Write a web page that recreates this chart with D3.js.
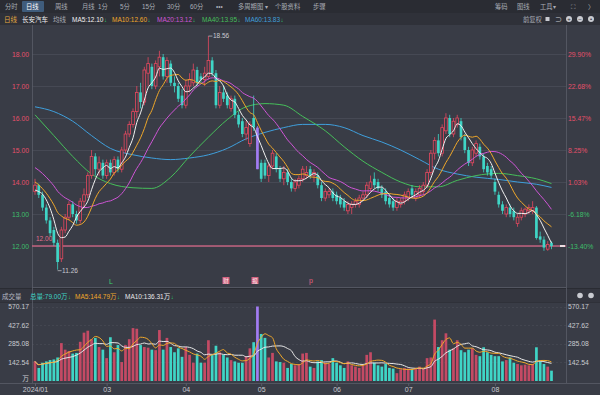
<!DOCTYPE html>
<html><head><meta charset="utf-8">
<script src="https://cdn.jsdelivr.net/npm/d3@7/dist/d3.min.js"></script>
<style>html,body{margin:0;padding:0;background:#393c46;overflow:hidden}
text{font-family:"Liberation Sans","Noto Sans CJK SC",sans-serif}</style>
</head><body><svg id="c" width="600" height="395"></svg>
<script>
// ---------------- DATA ----------------
const monthLabels = ["2024/01","03","04","05","06","07","08"];
const monthStartIdx = [0,19,40,60,80,99,122];
const open = [13.7,13.9,13.6,13.2,12.8,12.5,12.1,11.6,12.5,12.9,13.3,13.0,12.8,13.4,13.6,14.2,14.8,14.4,14.6,14.2,
14.6,14.3,14.7,14.4,15.0,15.5,15.8,16.2,16.8,16.5,17.4,17.6,17.0,17.6,17.9,17.3,17.7,17.1,17.0,16.7,
16.4,17.0,17.1,17.5,17.3,17.2,17.3,17.8,17.4,16.4,16.8,16.7,16.3,16.6,16.1,15.9,15.5,15.2,16.0,15.7,
14.6,14.6,14.2,14.5,14.8,14.4,14.1,14.3,14.0,13.8,13.9,14.1,14.2,14.4,14.2,14.2,13.9,13.5,13.6,13.7,
13.6,13.5,13.4,13.1,13.2,13.3,13.3,13.5,13.6,13.8,14.1,14.0,13.8,13.7,13.5,13.4,13.2,13.3,13.4,13.5,
13.8,13.5,13.6,13.7,13.9,14.3,14.9,15.3,14.9,15.6,16.0,15.5,15.8,15.9,15.4,15.0,14.6,14.9,15.1,14.8,
14.5,14.4,14.0,13.6,13.3,13.0,13.2,13.1,12.7,12.9,13.0,13.1,13.1,13.2,12.3,12.2,11.9,12.1];
const high = [14.1,13.95,13.7,13.3,12.9,12.6,12.2,12.6,13.0,13.4,13.4,13.1,13.5,13.8,14.3,15.0,14.9,14.8,14.7,14.7,
14.7,14.8,14.8,15.1,15.6,15.9,16.3,17.0,17.1,17.6,17.9,17.7,17.8,18.1,18.0,17.9,17.8,17.3,17.1,16.9,
17.2,17.4,17.7,17.6,17.4,17.6,18.56,17.9,17.5,17.0,17.0,16.8,16.7,16.7,16.2,16.0,15.9,15.9,16.7,15.75,
14.7,14.7,14.6,15.0,14.9,14.5,14.5,14.4,14.1,14.1,14.2,14.5,14.5,14.5,14.4,14.3,14.0,13.8,13.8,13.8,
13.7,13.6,13.5,13.4,13.4,13.5,13.6,13.7,14.0,14.2,14.3,14.1,13.9,13.8,13.6,13.5,13.5,13.5,13.7,13.8,
13.9,13.8,13.9,14.0,14.4,15.0,15.4,15.5,15.8,16.15,16.1,16.0,16.1,16.0,15.5,15.1,15.1,15.3,15.2,14.9,
14.6,14.5,14.1,13.7,13.4,13.3,13.3,13.2,13.0,13.2,13.2,13.3,13.4,13.25,12.45,12.3,12.15,12.15];
const low = [13.6,13.5,13.1,12.7,12.3,12.0,11.26,11.5,12.4,12.8,12.9,12.7,12.7,13.2,13.5,14.1,14.2,14.2,14.1,14.1,
14.2,14.2,14.3,14.3,14.9,15.4,15.7,16.0,16.3,16.4,17.0,16.9,16.9,17.3,17.2,17.1,17.0,16.8,16.5,16.3,
16.3,16.8,17.0,17.0,17.1,17.0,17.2,17.3,16.3,16.3,16.5,16.3,16.2,16.0,15.7,15.4,15.3,15.1,15.6,14.4,
14.0,14.1,14.0,14.4,14.3,14.0,13.9,13.9,13.7,13.7,13.8,14.0,14.1,14.1,14.0,13.8,13.4,13.4,13.5,13.4,
13.3,13.2,13.1,13.0,13.0,13.2,13.2,13.4,13.5,13.7,13.8,13.7,13.5,13.3,13.2,13.1,13.1,13.2,13.3,13.4,
13.5,13.4,13.5,13.6,13.8,14.2,14.7,14.8,14.8,15.5,15.4,15.4,15.7,15.3,14.9,14.5,14.5,14.8,14.7,14.3,
14.2,14.1,13.6,13.2,13.0,12.9,12.9,12.8,12.6,12.8,12.9,13.0,13.0,12.2,12.1,11.85,11.85,11.9];
const close = [13.9,13.6,13.2,12.8,12.4,12.1,11.5,12.5,12.9,13.3,13.0,12.8,13.4,13.6,14.2,14.8,14.4,14.6,14.2,14.6,
14.3,14.7,14.4,15.0,15.5,15.8,16.2,16.8,16.5,17.5,17.7,17.0,17.7,17.9,17.3,17.8,17.1,17.0,16.6,16.4,
17.0,17.2,17.5,17.1,17.2,17.4,17.8,17.4,16.4,16.8,16.6,16.4,16.6,16.1,15.8,15.5,15.7,15.8,15.7,14.4,
14.1,14.2,14.5,14.9,14.4,14.1,14.3,14.0,13.8,14.0,14.1,14.4,14.3,14.2,14.3,13.9,13.5,13.7,13.7,13.5,
13.4,13.3,13.2,13.3,13.3,13.4,13.5,13.6,13.9,14.0,13.9,13.8,13.6,13.4,13.3,13.2,13.4,13.4,13.6,13.7,
13.6,13.7,13.8,13.9,14.3,14.9,15.3,14.9,15.7,16.0,15.5,15.9,16.0,15.4,15.0,14.6,15.0,15.2,14.8,14.4,
14.3,14.2,13.7,13.3,13.1,13.2,13.0,12.9,12.9,13.1,13.15,13.2,13.2,12.25,12.2,11.95,12.05,12.0];
const volume = [150,100,140,150,160,165,180,290,240,230,210,215,300,370,385,320,330,260,240,175,
335,220,275,145,275,320,405,400,275,260,255,240,236,390,240,330,260,220,250,185,
260,200,140,210,140,140,312,200,270,220,200,180,160,150,140,140,190,250,297,570.17,
360,330,180,215,150,145,140,100,130,120,130,210,215,110,100,150,160,140,130,175,
140,120,100,150,120,110,100,120,200,220,140,120,110,130,100,95,60,90,100,95,
90,100,110,95,175,180,470,260,312,365,240,250,312,236,220,240,250,200,190,258,
220,200,190,190,150,160,180,140,130,120,125,120,130,258,150,130,110,79];
const prevCloses = [15.3,15.2,15.1,15.0,14.9,14.9,14.8,14.7,14.6,14.5,14.5,14.4,14.2,14.1,14.05,13.85,13.6,13.7,13.7];
const highlightDay = 59;
const maSampleDays = [0,5,10,15,20,26,31,36,41,46,51,56,61,66,71,77,82,87,92,97,102,107,112,117,123,128,133,137];
const ma40 = [16.1,15.45,14.8,14.25,13.95,13.82,13.8,14.15,14.8,15.4,15.95,16.35,16.45,16.4,16.05,15.6,15.1,14.65,14.3,14.0,13.85,13.85,14.05,14.2,14.27,14.2,14.1,13.95];
const ma60 = [16.35,16.2,15.9,15.45,15.05,14.85,14.75,14.7,14.75,14.85,15.05,15.35,15.55,15.7,15.8,15.8,15.7,15.45,15.25,15.0,14.7,14.4,14.25,14.15,14.08,14.0,13.93,13.83];
const priceTicks = [18,17,16,15,14,13,12];
const pctLabels = ["29.90%","22.68%","15.47%","8.25%","1.03%","-6.18%","-13.40%"];
const volTicks = [570.17,427.62,285.08,142.54];
const basePrice = 13.857;
const lastPrice = 12.00;

// ---------------- STYLE ----------------
const C = {bg:"#393c46", bar1:"#2a2c33", bar2:"#2f3139", grid:"#4a4d58", axis:"#5a5d68",
  up:"#e5495f", down:"#3fd5c6", hl:"#a27cf2", ma5:"#f2f2f2", ma10:"#f0a82a", ma20:"#cf55d6",
  ma40:"#46bf5a", ma60:"#3f9fdc", red:"#e4506a", green:"#3dbf6a", txt:"#c9cbd1", dim:"#9a9ca6"};

const svg = d3.select("#c");
const N = close.length;
const x = d3.scalePoint().domain(d3.range(N)).range([35, 35 + 3.77*(N-1)]);
const cw = 2.7;
const y = d3.scaleLinear().domain([12,18]).range([246,54]);
const yv = d3.scaleLinear().domain([0,570.17]).range([381,306.5]);

// backgrounds
svg.append("rect").attr("width",600).attr("height",395).attr("fill",C.bg);
svg.append("rect").attr("width",600).attr("height",13).attr("fill",C.bar1);
svg.append("rect").attr("y",13).attr("width",600).attr("height",12).attr("fill",C.bar2);
svg.append("rect").attr("y",288).attr("width",600).attr("height",15).attr("fill","#34363f");
svg.append("line").attr("x1",0).attr("x2",600).attr("y1",288.5).attr("y2",288.5).attr("stroke","#2a2c33");
svg.append("line").attr("x1",0).attr("x2",600).attr("y1",302.5).attr("y2",302.5).attr("stroke","#2f3139");

// toolbar row 1
const tabs = [["分时",5],["日线",26],["周线",55],["月线",82],["1分",98],["5分",120],["15分",142],["30分",167],["60分",190],["•••",216],["多周期图 ▾",238],["个股资料",275],["步骤",313],
  ["筹码",495],["图线",517],["工具▾",540],["⛶",571],["〉",588]];
svg.append("rect").attr("x",22).attr("y",1).attr("width",22).attr("height",11).attr("fill","#3f5c7c").attr("rx",1);
tabs.forEach(t=>svg.append("text").attr("x",t[1]).attr("y",9.3).attr("font-size",6.3)
  .attr("fill",t[0]==="日线"?"#ffffff":"#a9acb6").text(t[0]));

// toolbar row 2 legend
const leg = [["日线",4,"#e0a840"],["长安汽车",22,"#eeeeee"],["均线",53,"#a9acb6"],
  ["MA5:12.10",72,C.ma5],["MA10:12.60",112,C.ma10],["MA20:13.12",157,C.ma20],["MA40:13.95",202,C.ma40],["MA60:13.83",245,C.ma60]];
leg.forEach(t=>{
  const tx = svg.append("text").attr("x",t[1]).attr("y",21.5).attr("font-size",6.5).attr("fill",t[2]).text(t[0]);
  if(t[0].startsWith("MA")){
    const w = tx.node().getComputedTextLength();
    svg.append("text").attr("x",t[1]+w+0.5).attr("y",21.5).attr("font-size",6).attr("fill","#2fcf70").text("↓");
  }
});
svg.append("text").attr("x",523).attr("y",21.5).attr("font-size",6.3).attr("fill","#a9acb6").text("前复权");
svg.append("rect").attr("x",545.5).attr("y",17).attr("width",4).attr("height",4).attr("fill","#c9cbd1");
svg.append("text").attr("x",555).attr("y",22).attr("font-size",7).attr("fill","#c9cbd1").text("⊃");
[569,580,591].forEach((cx,i)=>{svg.append("circle").attr("cx",cx).attr("cy",19).attr("r",3).attr("fill","#c9cbd1");
  svg.append("text").attr("x",cx).attr("y",21.2).attr("text-anchor","middle").attr("font-size",6).attr("fill",C.bar2).text(["+","−","•"][i]);});

// gridlines
svg.append("g").selectAll("line").data(priceTicks).join("line")
  .attr("x1",32).attr("x2",566).attr("y1",d=>Math.round(y(d))+0.5).attr("y2",d=>Math.round(y(d))+0.5)
  .attr("stroke",C.grid).attr("stroke-width",0.8);
svg.append("g").selectAll("line").data(volTicks).join("line")
  .attr("x1",32).attr("x2",566).attr("y1",d=>Math.round(yv(d))+0.5).attr("y2",d=>Math.round(yv(d))+0.5)
  .attr("stroke",C.grid).attr("stroke-width",0.6).attr("stroke-dasharray","2,2");

// frame
[[32.5,25,32.5,383],[566.5,25,566.5,383],[32,287.5,566,287.5],[0,383.5,600,383.5]].forEach(l=>
  svg.append("line").attr("x1",l[0]).attr("y1",l[1]).attr("x2",l[2]).attr("y2",l[3]).attr("stroke",C.axis).attr("stroke-width",0.8));

// price axes
const la = svg.append("g").attr("transform","translate(29,0)")
  .call(d3.axisLeft(y).tickValues(priceTicks).tickSize(0).tickPadding(0).tickFormat(d3.format(".2f")));
la.select(".domain").remove();
la.selectAll("text").attr("font-size",6.8).attr("fill",d=>d>=basePrice?C.red:C.green).attr("font-family",null);
const ra = svg.append("g").attr("transform","translate(568,0)")
  .call(d3.axisRight(y).tickValues(priceTicks).tickSize(0).tickPadding(0).tickFormat((d,i)=>pctLabels[i]));
ra.select(".domain").remove();
ra.selectAll("text").attr("font-size",6.8).attr("fill",d=>d>=basePrice?C.red:C.green).attr("font-family",null);

// last price line
svg.append("text").attr("x",36).attr("y",241).attr("font-size",6.5).attr("fill","#e07090").text(d3.format(".2f")(lastPrice));
svg.append("line").attr("x1",32).attr("x2",566).attr("y1",y(lastPrice)).attr("y2",y(lastPrice))
  .attr("stroke","#c2627f").attr("stroke-width",1.6);
svg.append("line").attr("x1",560).attr("x2",565).attr("y1",y(lastPrice)).attr("y2",y(lastPrice)).attr("stroke","#ffffff").attr("stroke-width",1.6);

// MA computations
const allC = prevCloses.concat(close);
const P = prevCloses.length;
function maC(n){return close.map((c,i)=>d3.mean(allC.slice(Math.max(0,i+P-n+1), i+P+1)));}
function maV(n){return volume.map((v,i)=>d3.mean(volume.slice(Math.max(0,i-n+1), i+1)));}

const line = d3.line().x((d,i)=>x(i)).y(d=>y(d)).curve(d3.curveMonotoneX);
const sline = d3.line().x((d,i)=>x(maSampleDays[i])).y(d=>y(d)).curve(d3.curveMonotoneX);

// long MAs behind
svg.append("path").attr("d",sline(ma60)).attr("fill","none").attr("stroke",C.ma60).attr("stroke-width",1);
svg.append("path").attr("d",sline(ma40)).attr("fill","none").attr("stroke",C.ma40).attr("stroke-width",1);

// candles
const g = svg.append("g");
const col = i => i===highlightDay ? C.hl : (close[i]>=open[i] ? C.up : C.down);
g.selectAll("line.w").data(close).join("line").attr("class","w")
  .attr("x1",(d,i)=>x(i)).attr("x2",(d,i)=>x(i)).attr("y1",(d,i)=>y(high[i])).attr("y2",(d,i)=>y(low[i]))
  .attr("stroke",(d,i)=>col(i)).attr("stroke-width",0.8);
g.selectAll("rect").data(close).join("rect")
  .attr("x",(d,i)=>x(i)-cw/2).attr("width",cw)
  .attr("y",(d,i)=>y(Math.max(open[i],close[i])))
  .attr("height",(d,i)=>Math.max(0.8,Math.abs(y(open[i])-y(close[i]))))
  .attr("fill",(d,i)=> (close[i]>=open[i] && i!==highlightDay) ? C.bg : col(i))
  .attr("stroke",(d,i)=>col(i)).attr("stroke-width",(d,i)=>(close[i]>=open[i] && i!==highlightDay)?0.8:0);

// short MAs on top
svg.append("path").attr("d",line(maC(20))).attr("fill","none").attr("stroke",C.ma20).attr("stroke-width",1);
svg.append("path").attr("d",line(maC(10))).attr("fill","none").attr("stroke",C.ma10).attr("stroke-width",1);
svg.append("path").attr("d",line(maC(5))).attr("fill","none").attr("stroke",C.ma5).attr("stroke-width",1);

// high/low annotations
const iH = d3.maxIndex(high), iL = d3.minIndex(low);
svg.append("line").attr("x1",x(iH)).attr("x2",x(iH)+4).attr("y1",y(high[iH])).attr("y2",y(high[iH])).attr("stroke",C.txt).attr("stroke-width",0.7);
svg.append("text").attr("x",x(iH)+4.5).attr("y",y(high[iH])+2.3).attr("font-size",6.5).attr("fill",C.txt).text(d3.format(".2f")(high[iH]));
svg.append("line").attr("x1",x(iL)).attr("x2",x(iL)+4).attr("y1",y(low[iL])+1).attr("y2",y(low[iL])+1).attr("stroke",C.txt).attr("stroke-width",0.7);
svg.append("text").attr("x",x(iL)+4.5).attr("y",y(low[iL])+3.3).attr("font-size",6.5).attr("fill",C.txt).text(d3.format(".2f")(low[iL]));

// event markers
svg.append("text").attr("x",109).attr("y",284).attr("font-size",7).attr("fill","#3dcf70").text("L");
[[226,"财"],[255,"报"]].forEach(m=>{
  svg.append("rect").attr("x",m[0]-3.5).attr("y",277).attr("width",7).attr("height",7).attr("fill","#d4607e");
  svg.append("text").attr("x",m[0]).attr("y",282.8).attr("text-anchor","middle").attr("font-size",5.5).attr("fill","#f6e6ea").text(m[1]);
});
svg.append("text").attr("x",309).attr("y",283).attr("font-size",7).attr("fill","#e46080").text("p");

// volume header
svg.append("text").attr("x",2).attr("y",298.5).attr("font-size",6.5).attr("fill","#b5b8c1").text("成交量");
const vh = [["总量:79.00万",30,"#3fd5c6"],["MA5:144.79万",75,C.ma10],["MA10:136.31万",125,"#e8e8e8"]];
vh.forEach(t=>{
  const tx = svg.append("text").attr("x",t[1]).attr("y",298.5).attr("font-size",6.5).attr("fill",t[2]).text(t[0]);
  const w = tx.node().getComputedTextLength();
  svg.append("text").attr("x",t[1]+w+0.5).attr("y",298.5).attr("font-size",6).attr("fill","#2fcf70").text("↓");
});
[580,591].forEach(cx=>svg.append("circle").attr("cx",cx).attr("cy",295.5).attr("r",2.8).attr("fill","#c9cbd1"));

// volume axes
const lv = svg.append("g").attr("transform","translate(29,0)")
  .call(d3.axisLeft(yv).tickValues(volTicks.concat([0])).tickSize(0).tickPadding(0).tickFormat(d=>d===0?"万":d3.format(".2f")(d)));
lv.select(".domain").remove();
lv.selectAll("text").attr("font-size",6.8).attr("fill",C.txt).attr("font-family",null).attr("dy",d=>d===0?"-0.05em":"0.32em");
const rv = svg.append("g").attr("transform","translate(568,0)")
  .call(d3.axisRight(yv).tickValues(volTicks).tickSize(0).tickPadding(0).tickFormat(d3.format(".2f")));
rv.select(".domain").remove();
rv.selectAll("text").attr("font-size",6.8).attr("fill",C.txt).attr("font-family",null);

// volume bars
const vcol = i => i===highlightDay ? C.hl : (close[i]>=open[i] ? "#c44a64" : C.down);
svg.append("g").selectAll("rect").data(volume).join("rect")
  .attr("x",(d,i)=>x(i)-cw/2).attr("width",cw)
  .attr("y",d=>yv(d)).attr("height",d=>yv(0)-yv(d))
  .attr("fill",(d,i)=>vcol(i));
const vline = d3.line().x((d,i)=>x(i)).y(d=>yv(d)).curve(d3.curveMonotoneX);
svg.append("path").attr("d",vline(maV(10))).attr("fill","none").attr("stroke","#e8e8e8").attr("stroke-width",1);
svg.append("path").attr("d",vline(maV(5))).attr("fill","none").attr("stroke",C.ma10).attr("stroke-width",1);

// x axis
const xa = svg.append("g").attr("transform","translate(0,383)")
  .call(d3.axisBottom(x).tickValues(monthStartIdx).tickSize(3).tickPadding(1).tickFormat((d,i)=>monthLabels[i]));
xa.select(".domain").remove();
xa.selectAll("line").attr("stroke",C.axis);
xa.selectAll("text").attr("font-size",7).attr("fill",C.txt).attr("font-family",null);
</script></body></html>
